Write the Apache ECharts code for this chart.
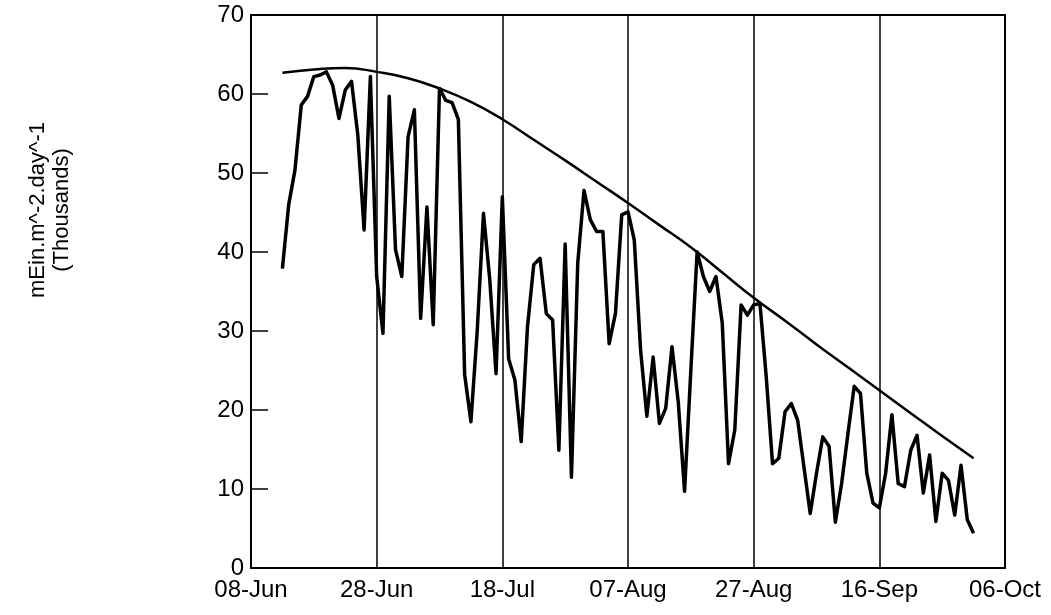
<!DOCTYPE html>
<html>
<head>
<meta charset="utf-8">
<script src="https://cdn.jsdelivr.net/npm/echarts@6/dist/echarts.min.js"></script>
<style>
html,body{margin:0;padding:0;background:#fff;}
#chart{width:1051px;height:615px;}
</style>
</head>
<body>
<div id="chart"></div>
<script>
// x tick labels (every 20 days from 08-Jun)
const tickLabels = ['08-Jun','28-Jun','18-Jul','07-Aug','27-Aug','16-Sep','06-Oct'];
// daily measured values (thousands), first day = day 5 after 08-Jun (13-Jun)
const startDay = 5;
const dailyValues = [
  37.9, 46.0, 50.4, 58.6, 59.7, 62.2, 62.4, 62.8, 61.1, 56.9,
  60.5, 61.6, 54.8, 42.8, 62.2, 36.9, 29.7, 59.7, 40.3, 36.9,
  54.6, 58.0, 31.6, 45.7, 30.8, 60.7, 59.2, 58.9, 56.8, 24.5,
  18.5, 30.0, 44.9, 36.5, 24.6, 47.0, 26.5, 23.8, 16.0, 30.5,
  38.4, 39.2, 32.2, 31.4, 14.9, 41.0, 11.5, 38.6, 47.8, 44.1,
  42.6, 42.6, 28.4, 32.2, 44.7, 45.1, 41.5, 27.6, 19.2, 26.7,
  18.3, 20.2, 28.0, 21.0, 9.7, 25.0, 40.0, 36.9, 35.0, 36.9,
  31.0, 13.2, 17.5, 33.3, 32.0, 33.3, 33.5, 24.2, 13.2, 13.9,
  19.8, 20.8, 18.7, 12.8, 6.9, 12.0, 16.6, 15.4, 5.8, 10.7,
  17.0, 23.0, 22.1, 12.0, 8.2, 7.6, 12.0, 19.4, 10.7, 10.3,
  14.9, 16.8, 9.5, 14.3, 5.9, 12.0, 11.1, 6.7, 13.0, 6.1,
  4.4
];
// smooth envelope (clear-sky) curve read every 5 days
const curveDays = [5,10,15,20,25,30,35,40,45,50,55,60,65,70,75,80,85,90,95,100,105,110,115];
const curveValues = [62.7,63.1,63.3,62.8,62.0,60.7,59.0,56.8,54.2,51.6,48.9,46.2,43.4,40.6,37.4,34.2,31.3,28.3,25.4,22.5,19.6,16.7,13.9];

const dailyData = dailyValues.map((v, i) => [startDay + i, v]);
const curveData = curveDays.map((d, i) => [d, curveValues[i]]);

const FONT = 'Liberation Sans, Arial, sans-serif';
const chart = echarts.init(document.getElementById('chart'), null, {renderer: 'canvas'});
chart.setOption({
  animation: false,
  backgroundColor: '#fff',
  grid: {left: 251, right: 46, top: 15, bottom: 47, show: true, borderColor: '#000', borderWidth: 2, backgroundColor: 'transparent'},
  xAxis: {
    type: 'value', min: 0, max: 120, interval: 20,
    axisLine: {show: true, lineStyle: {color: '#000', width: 2}},
    axisTick: {show: false},
    splitLine: {show: true, lineStyle: {color: '#000', width: 1.5}},
    axisLabel: {
      color: '#000', fontFamily: FONT, fontSize: 24, margin: 10,
      formatter: v => tickLabels[Math.round(v / 20)]
    }
  },
  yAxis: {
    type: 'value', min: 0, max: 70, interval: 10,
    axisLine: {show: true, lineStyle: {color: '#000', width: 2}},
    axisTick: {show: true, inside: true, length: 17, lineStyle: {color: '#000', width: 1.5}},
    splitLine: {show: false},
    axisLabel: {color: '#000', fontFamily: FONT, fontSize: 24, margin: 7}
  },
  graphic: [{
    type: 'text', x: 50, y: 210, rotation: Math.PI / 2,
    style: {text: 'mEin.m^-2.day^-1\n(Thousands)', font: '22px ' + FONT, fill: '#000', align: 'center', verticalAlign: 'middle', lineHeight: 24}
  }],
  series: [
    {type: 'line', data: curveData, smooth: true, symbol: 'none', lineStyle: {color: '#000', width: 2.5}, z: 3},
    {type: 'line', data: dailyData, symbol: 'none', lineStyle: {color: '#000', width: 3.5, join: 'round'}, z: 4}
  ]
});
</script>
</body>
</html>
